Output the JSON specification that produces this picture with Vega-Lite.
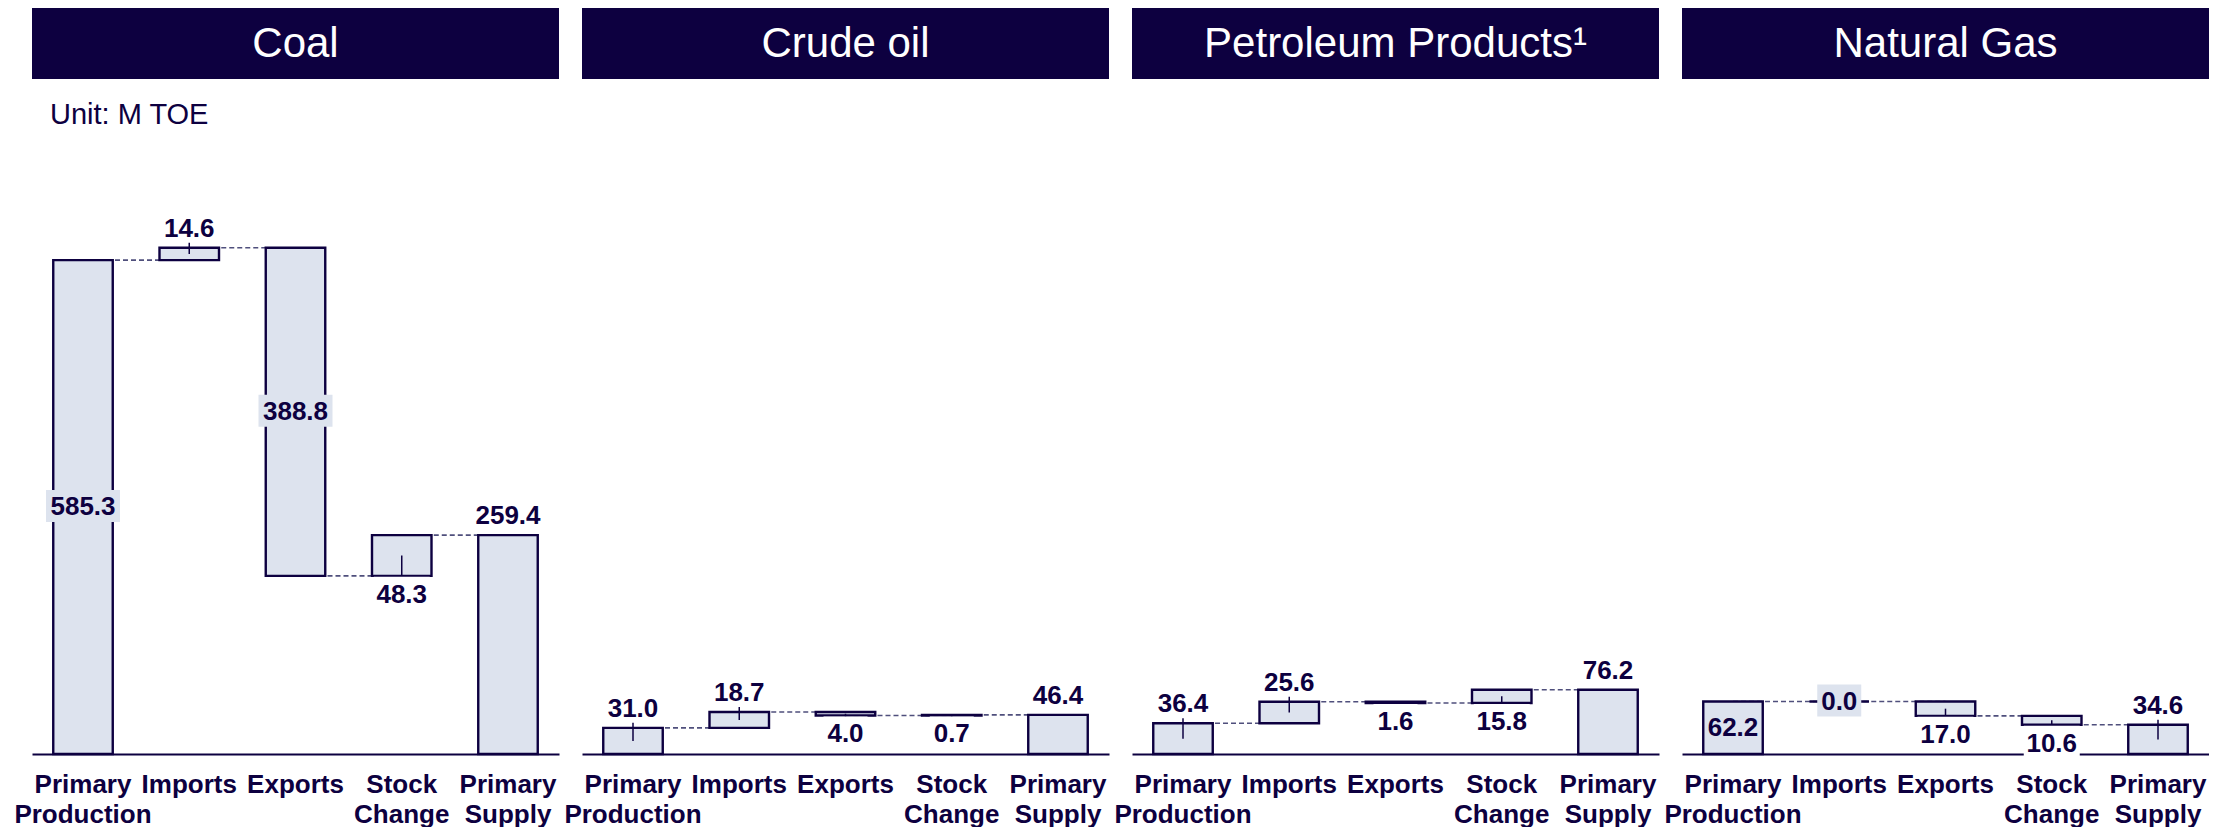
{
  "$schema": "https://vega.github.io/schema/vega-lite/v6.json",
  "background": "white",
  "padding": {"left": 13, "top": 8, "right": 0, "bottom": 0},
  "config": {
    "view": {"stroke": null},
    "font": "Liberation Sans",
    "scale": {"bandPaddingInner": 0.44, "bandPaddingOuter": 0.2},
    "axisX": {
      "title": null, "ticks": false, "tickSize": 0,
      "domainColor": "#0d0040", "domainWidth": 2,
      "labelAngle": 0, "labelFont": "Liberation Sans", "labelFontSize": 26, "labelFontWeight": "bold",
      "labelColor": "#0d0040", "labelPadding": 17, "labelBaseline": "top", "labelLineHeight": 30,
      "labelExpr": "split(datum.value, ' ')", "labelOverlap": false, "labelBound": false, "labelFlush": false, "labelLimit": 0
    },
    "text": {"font": "Liberation Sans", "fontSize": 26, "fontWeight": "bold", "color": "#0d0040"}
  },
  "datasets": {
    "heads": [
      {"panel": "Coal", "title": "Coal"},
      {"panel": "Crude oil", "title": "Crude oil"},
      {"panel": "Petroleum Products", "title": "Petroleum Products¹"},
      {"panel": "Natural Gas", "title": "Natural Gas"}
    ],
    "bars": [
      {"panel": "Coal", "cat": "Primary Production", "next": "Imports", "label": "585.3", "lo": 0, "hi": 585.3, "mid": 292.65, "end": 585.3, "pos": "inside", "leader": false},
      {"panel": "Coal", "cat": "Imports", "next": "Exports", "label": "14.6", "lo": 585.3, "hi": 599.9, "mid": 592.6, "end": 599.9, "pos": "above", "leader": true},
      {"panel": "Coal", "cat": "Exports", "next": "Stock Change", "label": "388.8", "lo": 211.1, "hi": 599.9, "mid": 405.5, "end": 211.1, "pos": "inside", "leader": false},
      {"panel": "Coal", "cat": "Stock Change", "next": "Primary Supply", "label": "48.3", "lo": 211.1, "hi": 259.4, "mid": 235.25, "end": 259.4, "pos": "below", "leader": true},
      {"panel": "Coal", "cat": "Primary Supply", "next": null, "label": "259.4", "lo": 0, "hi": 259.4, "mid": 129.7, "end": null, "pos": "above", "leader": false},
      {"panel": "Crude oil", "cat": "Primary Production", "next": "Imports", "label": "31.0", "lo": 0, "hi": 31.0, "mid": 15.5, "end": 31.0, "pos": "above", "leader": true},
      {"panel": "Crude oil", "cat": "Imports", "next": "Exports", "label": "18.7", "lo": 31.0, "hi": 49.7, "mid": 40.35, "end": 49.7, "pos": "above", "leader": true},
      {"panel": "Crude oil", "cat": "Exports", "next": "Stock Change", "label": "4.0", "lo": 45.7, "hi": 49.7, "mid": 47.7, "end": 45.7, "pos": "below", "leader": true},
      {"panel": "Crude oil", "cat": "Stock Change", "next": "Primary Supply", "label": "0.7", "lo": 45.7, "hi": 46.4, "mid": 46.05, "end": 46.4, "pos": "below", "leader": true},
      {"panel": "Crude oil", "cat": "Primary Supply", "next": null, "label": "46.4", "lo": 0, "hi": 46.4, "mid": 23.2, "end": null, "pos": "above", "leader": false},
      {"panel": "Petroleum Products", "cat": "Primary Production", "next": "Imports", "label": "36.4", "lo": 0, "hi": 36.4, "mid": 18.2, "end": 36.4, "pos": "above", "leader": true},
      {"panel": "Petroleum Products", "cat": "Imports", "next": "Exports", "label": "25.6", "lo": 36.4, "hi": 62.0, "mid": 49.2, "end": 62.0, "pos": "above", "leader": true},
      {"panel": "Petroleum Products", "cat": "Exports", "next": "Stock Change", "label": "1.6", "lo": 60.4, "hi": 62.0, "mid": 61.2, "end": 60.4, "pos": "below", "leader": true},
      {"panel": "Petroleum Products", "cat": "Stock Change", "next": "Primary Supply", "label": "15.8", "lo": 60.4, "hi": 76.2, "mid": 68.3, "end": 76.2, "pos": "below", "leader": true},
      {"panel": "Petroleum Products", "cat": "Primary Supply", "next": null, "label": "76.2", "lo": 0, "hi": 76.2, "mid": 38.1, "end": null, "pos": "above", "leader": false},
      {"panel": "Natural Gas", "cat": "Primary Production", "next": "Imports", "label": "62.2", "lo": 0, "hi": 62.2, "mid": 31.1, "end": 62.2, "pos": "inside", "leader": false},
      {"panel": "Natural Gas", "cat": "Imports", "next": "Exports", "label": "0.0", "lo": 62.2, "hi": 62.2, "mid": 62.2, "end": 62.2, "pos": "inside", "leader": false},
      {"panel": "Natural Gas", "cat": "Exports", "next": "Stock Change", "label": "17.0", "lo": 45.2, "hi": 62.2, "mid": 53.7, "end": 45.2, "pos": "below", "leader": true},
      {"panel": "Natural Gas", "cat": "Stock Change", "next": "Primary Supply", "label": "10.6", "lo": 34.6, "hi": 45.2, "mid": 39.9, "end": 34.6, "pos": "below", "leader": true},
      {"panel": "Natural Gas", "cat": "Primary Supply", "next": null, "label": "34.6", "lo": 0, "hi": 34.6, "mid": 17.3, "end": null, "pos": "above", "leader": true}
    ]
  },
  "spacing": 22,
  "vconcat": [
    {
      "spacing": 23,
      "hconcat": [
        {"width": 527, "height": 71, "view": {"fill": "#0d0040", "stroke": null}, "data": {"name": "heads"}, "transform": [{"filter": "datum.panel == 'Coal'"}], "mark": {"type": "text", "fontSize": 42, "fontWeight": "normal", "color": "white"}, "encoding": {"text": {"field": "title", "type": "nominal"}}},
        {"width": 527, "height": 71, "view": {"fill": "#0d0040", "stroke": null}, "data": {"name": "heads"}, "transform": [{"filter": "datum.panel == 'Crude oil'"}], "mark": {"type": "text", "fontSize": 42, "fontWeight": "normal", "color": "white"}, "encoding": {"text": {"field": "title", "type": "nominal"}}},
        {"width": 527, "height": 71, "view": {"fill": "#0d0040", "stroke": null}, "data": {"name": "heads"}, "transform": [{"filter": "datum.panel == 'Petroleum Products'"}], "mark": {"type": "text", "fontSize": 42, "fontWeight": "normal", "color": "white"}, "encoding": {"text": {"field": "title", "type": "nominal"}}},
        {"width": 527, "height": 71, "view": {"fill": "#0d0040", "stroke": null}, "data": {"name": "heads"}, "transform": [{"filter": "datum.panel == 'Natural Gas'"}], "mark": {"type": "text", "fontSize": 42, "fontWeight": "normal", "color": "white"}, "encoding": {"text": {"field": "title", "type": "nominal"}}}
      ]
    },
    {
      "title": {"text": "Unit: M TOE", "anchor": "start", "frame": "group", "fontSize": 29, "fontWeight": "normal", "color": "#0d0040", "font": "Liberation Sans", "offset": 24, "dx": 18},
      "spacing": 23,
      "bounds": "flush",
      "hconcat": [
        {
          "width": 527, "height": 600,
          "data": {"name": "bars"},
          "transform": [{"filter": "datum.panel == 'Coal'"}],
          "encoding": {"x": {"field": "cat", "type": "nominal", "scale": {"domain": ["Primary Production", "Imports", "Exports", "Stock Change", "Primary Supply"]}}},
          "layer": [
            {"transform": [{"filter": "datum.next != null"}], "mark": {"type": "rule", "color": "#4f4f7c", "strokeWidth": 1.6, "strokeDash": [5, 3]}, "encoding": {"x2": {"field": "next"}, "y": {"field": "end", "type": "quantitative", "scale": {"domain": [0, 711], "nice": false}, "axis": null}}},
            {"mark": {"type": "bar", "fill": "#dde3ee", "stroke": "#0d0040", "strokeWidth": 2.4, "opacity": 1}, "encoding": {"y": {"field": "lo", "type": "quantitative", "scale": {"domain": [0, 711], "nice": false}, "axis": null}, "y2": {"field": "hi"}}},
            {"transform": [{"filter": "datum.pos == 'above' && datum.leader"}], "mark": {"type": "rule", "color": "#0d0040", "strokeWidth": 1.5, "y2Offset": -5}, "encoding": {"y": {"field": "mid", "type": "quantitative", "scale": {"domain": [0, 711], "nice": false}, "axis": null}, "y2": {"field": "hi"}}},
            {"transform": [{"filter": "datum.pos == 'below' && datum.leader"}], "mark": {"type": "rule", "color": "#0d0040", "strokeWidth": 1.5, "y2Offset": 5}, "encoding": {"y": {"field": "mid", "type": "quantitative", "scale": {"domain": [0, 711], "nice": false}, "axis": null}, "y2": {"field": "lo"}}},
            {"transform": [{"filter": "datum.pos == 'inside'"}], "mark": {"type": "point", "filled": true, "fill": "#dde3ee", "strokeWidth": 0, "opacity": 1, "yOffset": -1},
             "encoding": {"y": {"field": "mid", "type": "quantitative", "scale": {"domain": [0, 711], "nice": false}, "axis": null},
               "shape": {"condition": [{"test": "length(datum.label) == 5", "value": "M-1,-0.4324H1V0.4324H-1Z"}, {"test": "length(datum.label) == 3", "value": "M-1,-0.7273H1V0.7273H-1Z"}], "value": "M-1,-0.5714H1V0.5714H-1Z"},
               "size": {"condition": [{"test": "length(datum.label) == 5", "value": 5476}, {"test": "length(datum.label) == 3", "value": 1936}], "value": 3136}}},
            {"transform": [{"filter": "datum.pos == 'below'"}], "mark": {"type": "point", "filled": true, "fill": "white", "strokeWidth": 0, "opacity": 1, "yOffset": 17},
             "encoding": {"y": {"field": "lo", "type": "quantitative", "scale": {"domain": [0, 711], "nice": false}, "axis": null},
               "shape": {"condition": [{"test": "length(datum.label) == 5", "value": "M-1,-0.4324H1V0.4324H-1Z"}, {"test": "length(datum.label) == 3", "value": "M-1,-0.7273H1V0.7273H-1Z"}], "value": "M-1,-0.5714H1V0.5714H-1Z"},
               "size": {"condition": [{"test": "length(datum.label) == 5", "value": 5476}, {"test": "length(datum.label) == 3", "value": 1936}], "value": 3136}}},
            {"transform": [{"filter": "datum.pos == 'above'"}], "mark": {"type": "text", "baseline": "alphabetic", "dy": -11}, "encoding": {"y": {"field": "hi", "type": "quantitative", "scale": {"domain": [0, 711], "nice": false}, "axis": null}, "text": {"field": "label", "type": "nominal"}}},
            {"transform": [{"filter": "datum.pos == 'below'"}], "mark": {"type": "text", "baseline": "top", "dy": 6}, "encoding": {"y": {"field": "lo", "type": "quantitative", "scale": {"domain": [0, 711], "nice": false}, "axis": null}, "text": {"field": "label", "type": "nominal"}}},
            {"transform": [{"filter": "datum.pos == 'inside'"}], "mark": {"type": "text", "baseline": "middle"}, "encoding": {"y": {"field": "mid", "type": "quantitative", "scale": {"domain": [0, 711], "nice": false}, "axis": null}, "text": {"field": "label", "type": "nominal"}}}
          ]
        },
        {
          "width": 527, "height": 600,
          "data": {"name": "bars"},
          "transform": [{"filter": "datum.panel == 'Crude oil'"}],
          "encoding": {"x": {"field": "cat", "type": "nominal", "scale": {"domain": ["Primary Production", "Imports", "Exports", "Stock Change", "Primary Supply"]}}},
          "layer": [
            {"transform": [{"filter": "datum.next != null"}], "mark": {"type": "rule", "color": "#4f4f7c", "strokeWidth": 1.6, "strokeDash": [5, 3]}, "encoding": {"x2": {"field": "next"}, "y": {"field": "end", "type": "quantitative", "scale": {"domain": [0, 711], "nice": false}, "axis": null}}},
            {"mark": {"type": "bar", "fill": "#dde3ee", "stroke": "#0d0040", "strokeWidth": 2.4, "opacity": 1}, "encoding": {"y": {"field": "lo", "type": "quantitative", "scale": {"domain": [0, 711], "nice": false}, "axis": null}, "y2": {"field": "hi"}}},
            {"transform": [{"filter": "datum.pos == 'above' && datum.leader"}], "mark": {"type": "rule", "color": "#0d0040", "strokeWidth": 1.5, "y2Offset": -5}, "encoding": {"y": {"field": "mid", "type": "quantitative", "scale": {"domain": [0, 711], "nice": false}, "axis": null}, "y2": {"field": "hi"}}},
            {"transform": [{"filter": "datum.pos == 'below' && datum.leader"}], "mark": {"type": "rule", "color": "#0d0040", "strokeWidth": 1.5, "y2Offset": 5}, "encoding": {"y": {"field": "mid", "type": "quantitative", "scale": {"domain": [0, 711], "nice": false}, "axis": null}, "y2": {"field": "lo"}}},
            {"transform": [{"filter": "datum.pos == 'inside'"}], "mark": {"type": "point", "filled": true, "fill": "#dde3ee", "strokeWidth": 0, "opacity": 1, "yOffset": -1},
             "encoding": {"y": {"field": "mid", "type": "quantitative", "scale": {"domain": [0, 711], "nice": false}, "axis": null},
               "shape": {"condition": [{"test": "length(datum.label) == 5", "value": "M-1,-0.4324H1V0.4324H-1Z"}, {"test": "length(datum.label) == 3", "value": "M-1,-0.7273H1V0.7273H-1Z"}], "value": "M-1,-0.5714H1V0.5714H-1Z"},
               "size": {"condition": [{"test": "length(datum.label) == 5", "value": 5476}, {"test": "length(datum.label) == 3", "value": 1936}], "value": 3136}}},
            {"transform": [{"filter": "datum.pos == 'below'"}], "mark": {"type": "point", "filled": true, "fill": "white", "strokeWidth": 0, "opacity": 1, "yOffset": 17},
             "encoding": {"y": {"field": "lo", "type": "quantitative", "scale": {"domain": [0, 711], "nice": false}, "axis": null},
               "shape": {"condition": [{"test": "length(datum.label) == 5", "value": "M-1,-0.4324H1V0.4324H-1Z"}, {"test": "length(datum.label) == 3", "value": "M-1,-0.7273H1V0.7273H-1Z"}], "value": "M-1,-0.5714H1V0.5714H-1Z"},
               "size": {"condition": [{"test": "length(datum.label) == 5", "value": 5476}, {"test": "length(datum.label) == 3", "value": 1936}], "value": 3136}}},
            {"transform": [{"filter": "datum.pos == 'above'"}], "mark": {"type": "text", "baseline": "alphabetic", "dy": -11}, "encoding": {"y": {"field": "hi", "type": "quantitative", "scale": {"domain": [0, 711], "nice": false}, "axis": null}, "text": {"field": "label", "type": "nominal"}}},
            {"transform": [{"filter": "datum.pos == 'below'"}], "mark": {"type": "text", "baseline": "top", "dy": 6}, "encoding": {"y": {"field": "lo", "type": "quantitative", "scale": {"domain": [0, 711], "nice": false}, "axis": null}, "text": {"field": "label", "type": "nominal"}}},
            {"transform": [{"filter": "datum.pos == 'inside'"}], "mark": {"type": "text", "baseline": "middle"}, "encoding": {"y": {"field": "mid", "type": "quantitative", "scale": {"domain": [0, 711], "nice": false}, "axis": null}, "text": {"field": "label", "type": "nominal"}}}
          ]
        },
        {
          "width": 527, "height": 600,
          "data": {"name": "bars"},
          "transform": [{"filter": "datum.panel == 'Petroleum Products'"}],
          "encoding": {"x": {"field": "cat", "type": "nominal", "scale": {"domain": ["Primary Production", "Imports", "Exports", "Stock Change", "Primary Supply"]}}},
          "layer": [
            {"transform": [{"filter": "datum.next != null"}], "mark": {"type": "rule", "color": "#4f4f7c", "strokeWidth": 1.6, "strokeDash": [5, 3]}, "encoding": {"x2": {"field": "next"}, "y": {"field": "end", "type": "quantitative", "scale": {"domain": [0, 711], "nice": false}, "axis": null}}},
            {"mark": {"type": "bar", "fill": "#dde3ee", "stroke": "#0d0040", "strokeWidth": 2.4, "opacity": 1}, "encoding": {"y": {"field": "lo", "type": "quantitative", "scale": {"domain": [0, 711], "nice": false}, "axis": null}, "y2": {"field": "hi"}}},
            {"transform": [{"filter": "datum.pos == 'above' && datum.leader"}], "mark": {"type": "rule", "color": "#0d0040", "strokeWidth": 1.5, "y2Offset": -5}, "encoding": {"y": {"field": "mid", "type": "quantitative", "scale": {"domain": [0, 711], "nice": false}, "axis": null}, "y2": {"field": "hi"}}},
            {"transform": [{"filter": "datum.pos == 'below' && datum.leader"}], "mark": {"type": "rule", "color": "#0d0040", "strokeWidth": 1.5, "y2Offset": 5}, "encoding": {"y": {"field": "mid", "type": "quantitative", "scale": {"domain": [0, 711], "nice": false}, "axis": null}, "y2": {"field": "lo"}}},
            {"transform": [{"filter": "datum.pos == 'inside'"}], "mark": {"type": "point", "filled": true, "fill": "#dde3ee", "strokeWidth": 0, "opacity": 1, "yOffset": -1},
             "encoding": {"y": {"field": "mid", "type": "quantitative", "scale": {"domain": [0, 711], "nice": false}, "axis": null},
               "shape": {"condition": [{"test": "length(datum.label) == 5", "value": "M-1,-0.4324H1V0.4324H-1Z"}, {"test": "length(datum.label) == 3", "value": "M-1,-0.7273H1V0.7273H-1Z"}], "value": "M-1,-0.5714H1V0.5714H-1Z"},
               "size": {"condition": [{"test": "length(datum.label) == 5", "value": 5476}, {"test": "length(datum.label) == 3", "value": 1936}], "value": 3136}}},
            {"transform": [{"filter": "datum.pos == 'below'"}], "mark": {"type": "point", "filled": true, "fill": "white", "strokeWidth": 0, "opacity": 1, "yOffset": 17},
             "encoding": {"y": {"field": "lo", "type": "quantitative", "scale": {"domain": [0, 711], "nice": false}, "axis": null},
               "shape": {"condition": [{"test": "length(datum.label) == 5", "value": "M-1,-0.4324H1V0.4324H-1Z"}, {"test": "length(datum.label) == 3", "value": "M-1,-0.7273H1V0.7273H-1Z"}], "value": "M-1,-0.5714H1V0.5714H-1Z"},
               "size": {"condition": [{"test": "length(datum.label) == 5", "value": 5476}, {"test": "length(datum.label) == 3", "value": 1936}], "value": 3136}}},
            {"transform": [{"filter": "datum.pos == 'above'"}], "mark": {"type": "text", "baseline": "alphabetic", "dy": -11}, "encoding": {"y": {"field": "hi", "type": "quantitative", "scale": {"domain": [0, 711], "nice": false}, "axis": null}, "text": {"field": "label", "type": "nominal"}}},
            {"transform": [{"filter": "datum.pos == 'below'"}], "mark": {"type": "text", "baseline": "top", "dy": 6}, "encoding": {"y": {"field": "lo", "type": "quantitative", "scale": {"domain": [0, 711], "nice": false}, "axis": null}, "text": {"field": "label", "type": "nominal"}}},
            {"transform": [{"filter": "datum.pos == 'inside'"}], "mark": {"type": "text", "baseline": "middle"}, "encoding": {"y": {"field": "mid", "type": "quantitative", "scale": {"domain": [0, 711], "nice": false}, "axis": null}, "text": {"field": "label", "type": "nominal"}}}
          ]
        },
        {
          "width": 527, "height": 600,
          "data": {"name": "bars"},
          "transform": [{"filter": "datum.panel == 'Natural Gas'"}],
          "encoding": {"x": {"field": "cat", "type": "nominal", "scale": {"domain": ["Primary Production", "Imports", "Exports", "Stock Change", "Primary Supply"]}}},
          "layer": [
            {"transform": [{"filter": "datum.next != null"}], "mark": {"type": "rule", "color": "#4f4f7c", "strokeWidth": 1.6, "strokeDash": [5, 3]}, "encoding": {"x2": {"field": "next"}, "y": {"field": "end", "type": "quantitative", "scale": {"domain": [0, 711], "nice": false}, "axis": null}}},
            {"mark": {"type": "bar", "fill": "#dde3ee", "stroke": "#0d0040", "strokeWidth": 2.4, "opacity": 1}, "encoding": {"y": {"field": "lo", "type": "quantitative", "scale": {"domain": [0, 711], "nice": false}, "axis": null}, "y2": {"field": "hi"}}},
            {"transform": [{"filter": "datum.pos == 'above' && datum.leader"}], "mark": {"type": "rule", "color": "#0d0040", "strokeWidth": 1.5, "y2Offset": -5}, "encoding": {"y": {"field": "mid", "type": "quantitative", "scale": {"domain": [0, 711], "nice": false}, "axis": null}, "y2": {"field": "hi"}}},
            {"transform": [{"filter": "datum.pos == 'below' && datum.leader"}], "mark": {"type": "rule", "color": "#0d0040", "strokeWidth": 1.5, "y2Offset": 5}, "encoding": {"y": {"field": "mid", "type": "quantitative", "scale": {"domain": [0, 711], "nice": false}, "axis": null}, "y2": {"field": "lo"}}},
            {"transform": [{"filter": "datum.pos == 'inside'"}], "mark": {"type": "point", "filled": true, "fill": "#dde3ee", "strokeWidth": 0, "opacity": 1, "yOffset": -1},
             "encoding": {"y": {"field": "mid", "type": "quantitative", "scale": {"domain": [0, 711], "nice": false}, "axis": null},
               "shape": {"condition": [{"test": "length(datum.label) == 5", "value": "M-1,-0.4324H1V0.4324H-1Z"}, {"test": "length(datum.label) == 3", "value": "M-1,-0.7273H1V0.7273H-1Z"}], "value": "M-1,-0.5714H1V0.5714H-1Z"},
               "size": {"condition": [{"test": "length(datum.label) == 5", "value": 5476}, {"test": "length(datum.label) == 3", "value": 1936}], "value": 3136}}},
            {"transform": [{"filter": "datum.pos == 'below'"}], "mark": {"type": "point", "filled": true, "fill": "white", "strokeWidth": 0, "opacity": 1, "yOffset": 17},
             "encoding": {"y": {"field": "lo", "type": "quantitative", "scale": {"domain": [0, 711], "nice": false}, "axis": null},
               "shape": {"condition": [{"test": "length(datum.label) == 5", "value": "M-1,-0.4324H1V0.4324H-1Z"}, {"test": "length(datum.label) == 3", "value": "M-1,-0.7273H1V0.7273H-1Z"}], "value": "M-1,-0.5714H1V0.5714H-1Z"},
               "size": {"condition": [{"test": "length(datum.label) == 5", "value": 5476}, {"test": "length(datum.label) == 3", "value": 1936}], "value": 3136}}},
            {"transform": [{"filter": "datum.pos == 'above'"}], "mark": {"type": "text", "baseline": "alphabetic", "dy": -11}, "encoding": {"y": {"field": "hi", "type": "quantitative", "scale": {"domain": [0, 711], "nice": false}, "axis": null}, "text": {"field": "label", "type": "nominal"}}},
            {"transform": [{"filter": "datum.pos == 'below'"}], "mark": {"type": "text", "baseline": "top", "dy": 6}, "encoding": {"y": {"field": "lo", "type": "quantitative", "scale": {"domain": [0, 711], "nice": false}, "axis": null}, "text": {"field": "label", "type": "nominal"}}},
            {"transform": [{"filter": "datum.pos == 'inside'"}], "mark": {"type": "text", "baseline": "middle"}, "encoding": {"y": {"field": "mid", "type": "quantitative", "scale": {"domain": [0, 711], "nice": false}, "axis": null}, "text": {"field": "label", "type": "nominal"}}}
          ]
        }
      ]
    }
  ]
}
